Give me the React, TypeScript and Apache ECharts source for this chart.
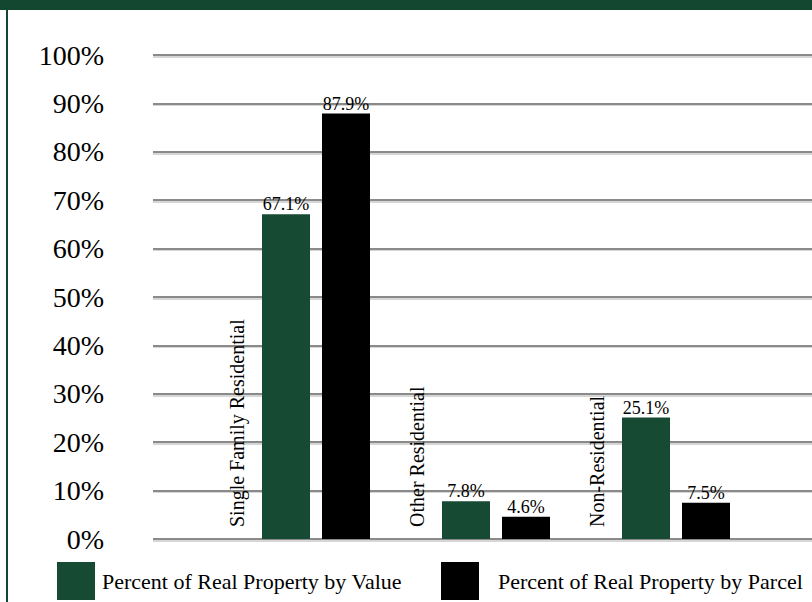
import React, { useEffect, useRef } from "react";
import * as echarts from "echarts";

const categories = ["Single Family Residential", "Other Residential", "Non-Residential"];
const byValue = [67.1, 7.8, 25.1];
const byParcel = [87.9, 4.6, 7.5];
const seriesNames = ["Percent of Real Property by Value", "Percent of Real Property by Parcel"];
const yTicks = { min: 0, max: 100, interval: 10 };

const GREEN = "#164a33";
const FONT = "'Liberation Serif', 'DejaVu Serif', serif";

export default function App() {
  const ref = useRef<HTMLDivElement>(null);
  useEffect(() => {
    if (!ref.current) return;
    const chart = echarts.init(ref.current, undefined, { renderer: "svg" });
    const gridBox = { top: 55, bottom: 63 };
    chart.setOption({
      animation: false,
      backgroundColor: "#ffffff",
      graphic: [
        { type: "rect", shape: { x: 0, y: 0, width: 812, height: 10 }, style: { fill: "#13472f" }, z: 100 },
        { type: "rect", shape: { x: 6, y: 0, width: 2, height: 602 }, style: { fill: "#13472f" }, z: 100 },
      ],
      grid: [
        { left: 153, right: 0, ...gridBox },
        { left: 226, right: 46, ...gridBox },
        { left: 147, right: 125, ...gridBox },
        { left: 153, right: 0, top: 56.6, bottom: 61.4 },
      ],
      xAxis: [
        { type: "value", gridIndex: 0, min: 0, max: 1, show: false },
        { type: "category", gridIndex: 1, data: categories, show: false },
        {
          type: "category",
          gridIndex: 2,
          data: categories,
          axisLine: { show: false },
          axisTick: { show: false },
          splitLine: { show: false },
          axisLabel: {
            inside: true,
            rotate: 90,
            margin: 12,
            fontSize: 20,
            fontFamily: FONT,
            color: "#000",
          },
          z: 10,
        },
        { type: "value", gridIndex: 3, min: 0, max: 1, show: false },
      ],
      yAxis: [
        {
          type: "value",
          gridIndex: 0,
          ...yTicks,
          axisLine: { show: false },
          axisTick: { show: false },
          axisLabel: {
            formatter: "{value}%",
            fontSize: 28,
            fontFamily: FONT,
            color: "#000",
            margin: 49,
          },
          splitLine: {
            show: true,
            lineStyle: { color: "#8a8a8a", width: 2 },
          },
          z: 2,
        },
        { type: "value", gridIndex: 1, ...yTicks, show: false },
        { type: "value", gridIndex: 2, ...yTicks, show: false },
        {
          type: "value",
          gridIndex: 3,
          ...yTicks,
          axisLine: { show: false },
          axisTick: { show: false },
          axisLabel: { show: false },
          splitLine: { show: true, lineStyle: { color: "#c8c8c8", width: 1.5 } },
          z: 1,
        },
      ],
      legend: [
        {
          data: [seriesNames[0]],
          left: 57,
          top: 562,
          padding: 0,
          itemWidth: 38,
          itemHeight: 38,
          icon: "rect",
          textStyle: { fontSize: 22, fontFamily: FONT, color: "#000", padding: [0, 0, 0, 2] },
        },
        {
          data: [seriesNames[1]],
          left: 441,
          top: 562,
          padding: 0,
          itemWidth: 38,
          itemHeight: 38,
          icon: "rect",
          textStyle: { fontSize: 22, fontFamily: FONT, color: "#000", padding: [0, 0, 0, 14] },
        },
      ],
      series: [
        {
          name: seriesNames[0],
          type: "bar",
          xAxisIndex: 1,
          yAxisIndex: 1,
          data: byValue,
          barWidth: 48,
          barGap: "25%",
          itemStyle: { color: GREEN },
          z: 5,
          label: {
            show: true,
            position: "top",
            distance: 1,
            formatter: "{c}%",
            fontSize: 18,
            fontFamily: FONT,
            color: "#000",
          },
        },
        {
          name: seriesNames[1],
          type: "bar",
          xAxisIndex: 1,
          yAxisIndex: 1,
          data: byParcel,
          barWidth: 48,
          barGap: "25%",
          itemStyle: { color: "#000" },
          z: 5,
          label: {
            show: true,
            position: "top",
            distance: 1,
            formatter: "{c}%",
            fontSize: 18,
            fontFamily: FONT,
            color: "#000",
          },
        },
      ],
    });
    return () => chart.dispose();
  }, []);
  return (
    <div
      ref={ref}
      style={{ position: "absolute", left: 0, top: 0, width: 812, height: 602 }}
    />
  );
}
